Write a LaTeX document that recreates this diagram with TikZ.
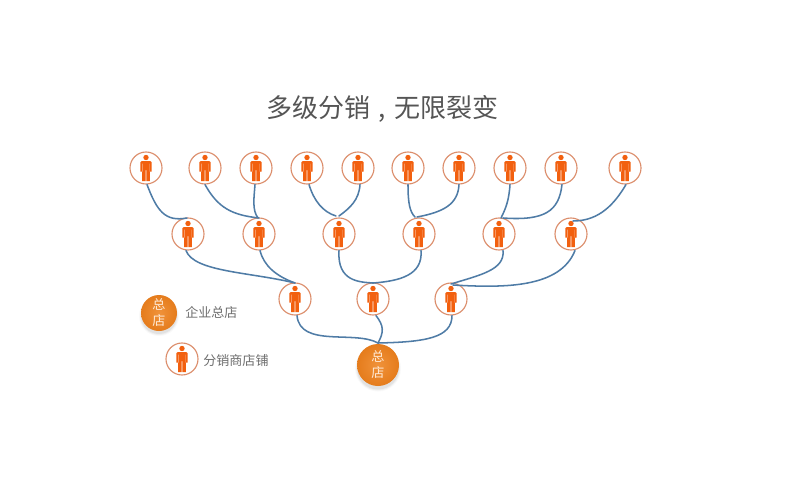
\documentclass[tikz,border=0pt]{standalone}
\usepackage{fontspec}
\setmainfont{Noto Sans CJK SC}
\definecolor{ringc}{HTML}{DC8E6C}
\definecolor{manc}{HTML}{F2600F}
\definecolor{linkc}{HTML}{4F7CA6}
\definecolor{balld}{HTML}{E57C1C}
\definecolor{balll}{HTML}{F0923A}
\definecolor{txtc}{HTML}{555555}
\tikzset{
  x=0.75pt,y=-0.75pt,
  ring/.style={circle,draw=ringc,line width=0.85pt,fill=white,minimum size=24pt,inner sep=0pt},
  link/.style={draw=linkc,line width=1.15pt,line cap=round},
  ball/.style={circle,minimum size=#1,inner sep=0pt,text=white!85!orange,font=\fontsize{9.8}{12}\selectfont,align=center,
    inner color=balll,outer color=balld},
  title/.style={text=txtc,font=\fontsize{19.5}{23}\selectfont,inner sep=0pt},
  legend/.style={text=txtc!85!white,font=\fontsize{9.8}{12}\selectfont,inner sep=0pt,anchor=west},
  man/.pic={
    \fill[manc] (0,-10.5) circle[radius=2.7];
    \fill[manc] (-5.6,-5.8) -- (-4.2,-7) -- (4.2,-7) -- (5.6,-5.8) -- (5.6,3.5) -- (4,3.5) -- (3.9,13) -- (0.4,13) -- (0.4,2) -- (-0.4,2) -- (-0.4,13) -- (-3.9,13) -- (-4,3.5) -- (-5.6,3.5) -- cycle;
    \fill[white!55!manc] (-3.9,-4.5) rectangle (-3.5,3.5) (3.5,-4.5) rectangle (3.9,3.5);
  }
}
\begin{document}
\begin{tikzpicture}
\useasboundingbox (0,0) rectangle (800,496);
\fill[white] (0,0) rectangle (800,496);
\node[title] (ttl) at (382.5,109) {多级分销\hspace{6pt},\hspace{6pt}无限裂变};
% nodes
\foreach \n/\x/\y in {t1/146/168,t2/205/168,t3/256/168,t4/307/168,t5/358/168,t6/408/168,t7/459/168,t8/510/168,t9/561/168,t10/625/168,
  m1/188/234,m2/259/234,m3/339/234,m4/419/234,m5/499/234,m6/571/234,
  s1/295/299,s2/373/299,s3/451/299,lg/182/359}{
  \node[ring] (\n) at (\x,\y) {};
  \pic at (\n) {man};
}
% balls with soft shadows
\foreach \r/\o in {23/0.025,22/0.04,21/0.05}{\fill[black,opacity=\o] (378,368.5) circle[radius=\r];}
\node[ball=31.5pt] (root) at (378,365) {总\\店};
\foreach \r/\o in {20/0.025,19/0.04,18/0.05}{\fill[black,opacity=\o] (159,316) circle[radius=\r];}
\node[ball=27pt] (lball) at (159,313) {总\\店};
\node[legend] (l1) at (185,312.5) {企业总店};
\node[legend] (l2) at (203,360.5) {分销商店铺};
% named link ends
\coordinate (m1a) at (187,218);
\coordinate (m2a) at (259,218);
\coordinate (m2b) at (258,218);
\coordinate (m3a) at (336,216);
\coordinate (m3b) at (339,216);
\coordinate (m4a) at (415,217);
\coordinate (m4b) at (417,217);
\coordinate (m5a) at (501,218);
\coordinate (m5b) at (503,218);
\coordinate (m6a) at (573,221);
\coordinate (s1a) at (295,283);
\coordinate (s2a) at (373,283);
\coordinate (s3a) at (451,284);
\coordinate (s3b) at (453,285);
\coordinate (ra) at (378,343);
% links
\draw[link] (t1.south) ++(1,0) .. controls (157,211) and (165,222) .. (m1a);
\draw[link] (t2.south) ++(0,0) .. controls (218,208) and (232,215) .. (m2a);
\draw[link] (t3.south) ++(-1,0) .. controls (254,198) and (252,210) .. (m2b);
\draw[link] (t4.south) ++(2,0) .. controls (314,201) and (323,212) .. (m3a);
\draw[link] (t5.south) ++(2,0) .. controls (359,200) and (350,208) .. (m3b);
\draw[link] (t6.south) ++(0,0) .. controls (408,204) and (410,212) .. (m4a);
\draw[link] (t7.south) ++(0,0) .. controls (458,204) and (444,212) .. (m4b);
\draw[link] (t8.south) ++(0,0) .. controls (509,200) and (506,208) .. (m5a);
\draw[link] (t9.south) ++(1,0) .. controls (559,211) and (545,221) .. (m5b);
\draw[link] (t10.south) ++(1,0) .. controls (615,203) and (600,221) .. (m6a);
\draw[link] (m1.south) ++(-2,0) .. controls (194,272) and (250,272) .. (s1a);
\draw[link] (m2.south) ++(1,0) .. controls (264,266) and (276,276) .. (s1a);
\draw[link] (m3.south) ++(0,0) .. controls (337,282) and (360,282) .. (s2a);
\draw[link] (m4.south) ++(2,0) .. controls (423,275) and (400,281) .. (s2a);
\draw[link] (m5.south) ++(4,0) .. controls (505,270) and (480,275) .. (s3a);
\draw[link] (m6.south) ++(4,0) .. controls (560,288) and (505,288) .. (s3b);
\draw[link] (s1.south) ++(2,0) .. controls (300,348) and (355,330) .. (ra);
\draw[link] (s2.south) ++(3,0) .. controls (384,326) and (384,332) .. (ra);
\draw[link] (s3.south) ++(1,0) .. controls (452,338) and (425,342) .. (ra);
\end{tikzpicture}
\end{document}
